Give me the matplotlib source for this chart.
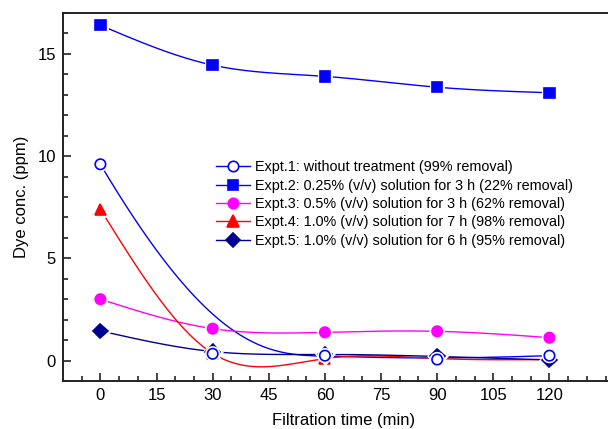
import numpy as np
import matplotlib.pyplot as plt
import matplotlib.patheffects as pe
from matplotlib.lines import Line2D

plt.rcParams['font.family'] = ['Liberation Sans', 'DejaVu Sans']

# Data
time_min = [0, 30, 60, 90, 120]
expt1 = [9.6, 0.33, 0.24, 0.05, 0.24]
expt2 = [16.4, 14.45, 13.9, 13.37, 13.1]
expt3 = [3.0, 1.56, 1.38, 1.43, 1.12]
expt4 = [7.4, 0.35, 0.1, 0.1, 0.05]
expt5 = [1.45, 0.44, 0.3, 0.2, 0.03]

labels = [
    'Expt.1: without treatment (99% removal)',
    'Expt.2: 0.25% (v/v) solution for 3 h (22% removal)',
    'Expt.3: 0.5% (v/v) solution for 3 h (62% removal)',
    'Expt.4: 1.0% (v/v) solution for 7 h (98% removal)',
    'Expt.5: 1.0% (v/v) solution for 6 h (95% removal)',
]


def natural_spline(x, y, xs):
    x = np.asarray(x, float)
    y = np.asarray(y, float)
    n = len(x)
    h = np.diff(x)
    A = np.zeros((n, n))
    r = np.zeros(n)
    A[0, 0] = A[-1, -1] = 1
    for i in range(1, n - 1):
        A[i, i - 1] = h[i - 1]
        A[i, i] = 2 * (h[i - 1] + h[i])
        A[i, i + 1] = h[i]
        r[i] = 6 * ((y[i + 1] - y[i]) / h[i] - (y[i] - y[i - 1]) / h[i - 1])
    M = np.linalg.solve(A, r)
    idx = np.clip(np.searchsorted(x, xs) - 1, 0, n - 2)
    x0, x1 = x[idx], x[idx + 1]
    hh = x1 - x0
    a = (x1 - xs) / hh
    b = (xs - x0) / hh
    return (a * y[idx] + b * y[idx + 1]
            + ((a ** 3 - a) * M[idx] + (b ** 3 - b) * M[idx + 1]) * hh ** 2 / 6)


def bspline(px, py, k=3, num=300):
    # clamped cubic B-spline, data points used as control points
    px = np.asarray(px, float)
    py = np.asarray(py, float)
    n = len(px)
    knots = np.concatenate([np.zeros(k), np.linspace(0, 1, n - k + 1), np.ones(k)])
    t = np.linspace(0, 1, num)
    B = np.zeros((num, len(knots) - 1))
    for i in range(len(knots) - 1):
        B[:, i] = (t >= knots[i]) & (t < knots[i + 1])
    B[-1, n - 1] = 1
    for d in range(1, k + 1):
        Bn = np.zeros((num, len(knots) - 1 - d))
        for i in range(len(knots) - 1 - d):
            left = knots[i + d] - knots[i]
            right = knots[i + d + 1] - knots[i + 1]
            term = 0
            if left > 0:
                term = term + (t - knots[i]) / left * B[:, i]
            if right > 0:
                term = term + (knots[i + d + 1] - t) / right * B[:, i + 1]
            Bn[:, i] = term
        B = Bn
    return B @ px, B @ py


fig = plt.figure(figsize=(6.08, 4.29), dpi=100)
ax = fig.add_axes([0.1036, 0.1119, 0.9232, 0.8578])

xs = np.linspace(0, 120, 400)
halo = [pe.Stroke(linewidth=3.5, foreground='white'), pe.Normal()]

styles = [
    (expt1, 'blue', 'o', 'white', 7.5),
    (expt2, 'blue', 's', 'blue', 7.5),
    (expt3, 'magenta', 'o', 'magenta', 7.5),
    (expt4, 'red', '^', 'red', 8),
    (expt5, '#000090', 'D', '#000090', 7.5),
]
zorders = [9, 5, 6, 4, 8]

handles = []
for i, (ys, col, mk, face, ms) in enumerate(styles):
    if i == 0:
        cx, cy = bspline(time_min, ys)
    else:
        cx, cy = xs, natural_spline(time_min, ys, xs)
    ax.plot(cx, cy, color=col, lw=1.0, zorder=2)
    ax.plot(time_min, ys, ls='none', marker=mk, ms=ms, mfc=face, mec=col,
            mew=1.2, zorder=zorders[i], path_effects=halo)
    handles.append(Line2D([], [], color=col, lw=1.0, marker=mk, ms=ms,
                          mfc=face, mec=col, mew=1.2))

ax.set_xlim(-10, 140)
ax.set_ylim(-1, 17)
ax.set_xticks(np.arange(0, 121, 15))
ax.set_xticks(np.arange(-5, 136, 5), minor=True)
ax.set_yticks(np.arange(0, 16, 5))
ax.set_yticks(np.arange(-1, 18, 1), minor=True)
ax.tick_params(which='both', direction='in', top=False, right=False,
               labelsize=12, width=1.2, color='#222222')
ax.tick_params(which='major', length=6, pad=5)
ax.tick_params(which='minor', length=3.5)
for s in ax.spines.values():
    s.set_linewidth(1.4)
    s.set_color('#222222')

ax.set_xlabel('Filtration time (min)', fontsize=12, labelpad=7)
ax.set_ylabel('Dye conc. (ppm)', fontsize=12, labelpad=6)

ax.legend(handles, labels, loc='upper left', bbox_to_anchor=(0.262, 0.615),
          frameon=False, fontsize=10.4, handlelength=2.4, handletextpad=0.3,
          labelspacing=0.3, borderaxespad=0)

fig.savefig('out.png', dpi=100)
